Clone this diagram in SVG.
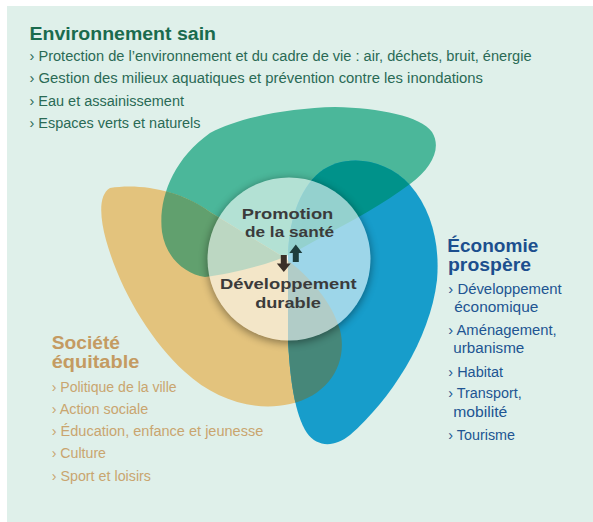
<svg xmlns="http://www.w3.org/2000/svg" width="593" height="522" viewBox="0 0 593 522">
<style>
.t{font-family:"Liberation Sans","DejaVu Sans",sans-serif;}
.h{font-weight:700;font-size:18px;}
.li{font-size:15.5px;}
.gt{fill:#1a6b4e;}
.gl{fill:#2a6a55;}
.bt{fill:#1c4f8e;}
.bl{fill:#215592;}
.yt{fill:#c49b62;}
.yl{fill:#c9a56f;}
.ct{font-family:"Liberation Sans","DejaVu Sans",sans-serif;font-weight:700;font-size:15px;fill:#3b3b3b;}
</style>
<defs>
<path id="pG" d="M205,277 C185,274 166,258 162,232 C158,200 172,160 210,133 C240,117 290,108 335,107 C380,108 420,116 432,132 C442,148 432,168 410,184 C385,203 350,222 320,238 C300,249 285,258 265,264 C245,270 222,275 205,277 Z"/>
<path id="pY" d="M110,188 C140,183 180,190 210,212 L285,258 C310,277 332,302 340,330 C348,362 330,395 290,404 C255,412 215,400 185,372 C150,340 120,290 106,240 C100,218 98,195 110,188 Z"/>
<path id="pB" d="M288,258 C288,225 298,190 320,172 C345,153 385,158 410,185 C432,210 440,245 437,280 C430,340 390,400 350,435 C335,447 318,448 307,433 C295,415 290,380 288,340 Z"/>
<clipPath id="cG"><use href="#pG"/></clipPath>
<clipPath id="cY"><use href="#pY"/></clipPath>
<filter id="blur" x="-30%" y="-30%" width="160%" height="160%"><feGaussianBlur stdDeviation="4"/></filter>
<mask id="outside"><rect x="0" y="0" width="593" height="522" fill="#fff"/><circle cx="289" cy="259" r="81.5" fill="#000"/></mask>
</defs>
<rect x="7" y="6" width="586" height="516" fill="#dff0ea"/>

<g id="environnement-sain">
<use href="#pG" fill="#4bb79a"/>
<text class="t h gt" x="29.5" y="39.5" textLength="186.5" lengthAdjust="spacingAndGlyphs">Environnement sain</text>
<text class="t li gl" x="29.5" y="60.5" textLength="502" lengthAdjust="spacingAndGlyphs">› Protection de l’environnement et du cadre de vie : air, déchets, bruit, énergie</text>
<text class="t li gl" x="29.5" y="83" textLength="453.5" lengthAdjust="spacingAndGlyphs">› Gestion des milieux aquatiques et prévention contre les inondations</text>
<text class="t li gl" x="29.5" y="105.5" textLength="154.5" lengthAdjust="spacingAndGlyphs">› Eau et assainissement</text>
<text class="t li gl" x="29.5" y="128" textLength="171" lengthAdjust="spacingAndGlyphs">› Espaces verts et naturels</text>
</g>

<g id="societe-equitable">
<use href="#pY" fill="#e3c37d"/>
<text class="t h yt" x="51.7" y="348.8" textLength="68.3" lengthAdjust="spacingAndGlyphs">Société</text>
<text class="t h yt" x="51.7" y="368.3" textLength="87.6" lengthAdjust="spacingAndGlyphs">équitable</text>
<text class="t li yl" x="51.7" y="392.3" textLength="125" lengthAdjust="spacingAndGlyphs">› Politique de la ville</text>
<text class="t li yl" x="51.7" y="413.8" textLength="96.6" lengthAdjust="spacingAndGlyphs">› Action sociale</text>
<text class="t li yl" x="51.7" y="435.7" textLength="211.6" lengthAdjust="spacingAndGlyphs">› Éducation, enfance et jeunesse</text>
<text class="t li yl" x="51.7" y="458.3" textLength="54.3" lengthAdjust="spacingAndGlyphs">› Culture</text>
<text class="t li yl" x="51.7" y="480.5" textLength="99.3" lengthAdjust="spacingAndGlyphs">› Sport et loisirs</text>
</g>

<g id="economie-prospere">
<use href="#pB" fill="#179dcb"/>
<text class="t h bt" x="447.3" y="251.7" textLength="91" lengthAdjust="spacingAndGlyphs">Économie</text>
<text class="t h bt" x="448" y="271" textLength="83" lengthAdjust="spacingAndGlyphs">prospère</text>
<text class="t li bl" x="448.3" y="294" textLength="113.4" lengthAdjust="spacingAndGlyphs">› Développement</text>
<text class="t li bl" x="454.3" y="311.7" textLength="84" lengthAdjust="spacingAndGlyphs">économique</text>
<text class="t li bl" x="448.3" y="335" textLength="108.4" lengthAdjust="spacingAndGlyphs">› Aménagement,</text>
<text class="t li bl" x="453.3" y="352.7" textLength="71" lengthAdjust="spacingAndGlyphs">urbanisme</text>
<text class="t li bl" x="448.3" y="376.7" textLength="54.7" lengthAdjust="spacingAndGlyphs">› Habitat</text>
<text class="t li bl" x="448.3" y="398.3" textLength="73.4" lengthAdjust="spacingAndGlyphs">› Transport,</text>
<text class="t li bl" x="453.3" y="416.7" textLength="54" lengthAdjust="spacingAndGlyphs">mobilité</text>
<text class="t li bl" x="448.3" y="440" textLength="66.7" lengthAdjust="spacingAndGlyphs">› Tourisme</text>
</g>

<g id="overlaps">
<use href="#pB" fill="#00928a" clip-path="url(#cG)"/>
<use href="#pY" fill="#61a06e" clip-path="url(#cG)"/>
<use href="#pB" fill="#468779" clip-path="url(#cY)"/>
</g>

<g id="centre">
<circle cx="289" cy="261" r="82" fill="#000" opacity="0.4" filter="url(#blur)" mask="url(#outside)"/>
<circle cx="289" cy="259" r="81.5" fill="#fff" fill-opacity="0.58"/>
<text class="ct" x="287.5" y="219.3" text-anchor="middle" textLength="91.6" lengthAdjust="spacingAndGlyphs">Promotion</text>
<text class="ct" x="289.5" y="236.7" text-anchor="middle" textLength="89" lengthAdjust="spacingAndGlyphs">de la santé</text>
<text class="ct" x="288.3" y="289.3" text-anchor="middle" textLength="136.7" lengthAdjust="spacingAndGlyphs">Développement</text>
<text class="ct" x="288" y="307.7" text-anchor="middle" textLength="65.7" lengthAdjust="spacingAndGlyphs">durable</text>
</g>

<g id="connectors">
<polygon points="295.8,244.5 302.3,253 298.8,253 298.8,262 292.8,262 292.8,253 289.3,253" fill="#1e3d3c"/>
<polygon points="283.8,272 290.8,263.5 286.8,263.5 286.8,255 280.8,255 280.8,263.5 276.8,263.5" fill="#3a2f27"/>
</g>
</svg>
